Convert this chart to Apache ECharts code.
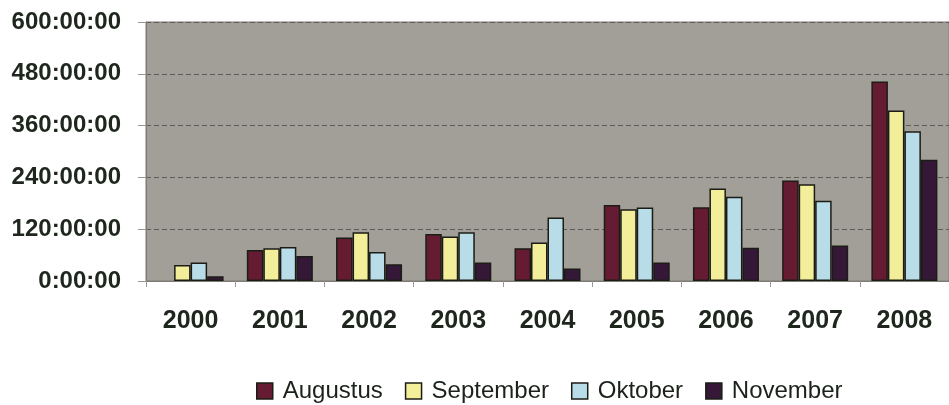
<!DOCTYPE html>
<html>
<head>
<meta charset="utf-8">
<script src="https://cdn.jsdelivr.net/npm/echarts@6/dist/echarts.min.js"></script>
<style>
  html, body { margin: 0; padding: 0; background: #fff; }
  #chart { width: 949px; height: 405px; }
</style>
</head>
<body>
<div id="chart"></div>
<script>
// jaren (categorieën)
var years = ['2000', '2001', '2002', '2003', '2004', '2005', '2006', '2007', '2008'];
// waarden in uren
var augustus  = [null, 72, 101, 109, 76, 176, 171, 233, 462];
var september = [37, 76, 113, 103, 89, 166, 214, 224, 395];
var oktober   = [43, 79, 67, 113, 147, 170, 195, 186, 347];
var november  = [11, 58, 39, 43, 29, 43, 77, 82, 281];
var seriesNames = ['Augustus', 'September', 'Oktober', 'November'];
var seriesColors = ['#651c33', '#f3ee9a', '#b8dce8', '#351838'];

var chart = echarts.init(document.getElementById('chart'));

function bar(i, data) {
    return {
        name: seriesNames[i],
        type: 'bar',
        data: data,
        barWidth: 16.5,
        barGap: '0%',
        itemStyle: {
            color: seriesColors[i],
            borderColor: '#1c1c16',
            borderWidth: 1.5
        }
    };
}

var option = {
    backgroundColor: '#ffffff',
    animation: false,
    textStyle: { fontFamily: 'Liberation Sans, Arial, sans-serif' },
    grid: {
        left: 146,
        top: 22,
        width: 806,
        bottom: 124,
        show: true,
        backgroundColor: '#a19f97',
        borderColor: '#7d7b74',
        borderWidth: 1
    },
    legend: {
        data: seriesNames,
        left: 251,
        top: 374,
        itemWidth: 16,
        itemHeight: 16,
        itemGap: 22,
        icon: 'rect',
        itemStyle: { borderColor: '#1c1c16', borderWidth: 1.5 },
        textStyle: { fontSize: 24, color: '#1a221a', padding: [0, 0, 0, 5] }
    },
    xAxis: {
        type: 'category',
        data: years,
        axisLine: { lineStyle: { color: '#7d7b74', width: 1 } },
        axisTick: { show: true, length: 6, lineStyle: { color: '#9a9a94' } },
        axisLabel: {
            fontSize: 25,
            fontWeight: 'bold',
            color: '#1e261e',
            margin: 28
        },
        splitLine: { show: false }
    },
    yAxis: {
        type: 'value',
        min: 0,
        max: 600,
        interval: 120,
        axisLine: { show: true, lineStyle: { color: '#7d7b74', width: 1 } },
        axisTick: { show: true, length: 8, lineStyle: { color: '#9a9a94' } },
        axisLabel: {
            fontSize: 24,
            fontWeight: 'bold',
            color: '#1e261e',
            margin: 25,
            formatter: function (v) { return v + ':00:00'; }
        },
        splitLine: {
            show: true,
            lineStyle: { color: '#5e5c56', type: [5, 3], width: 1 }
        }
    },
    series: [
        bar(0, augustus),
        bar(1, september),
        bar(2, oktober),
        bar(3, november)
    ]
};

chart.setOption(option);
</script>
</body>
</html>
